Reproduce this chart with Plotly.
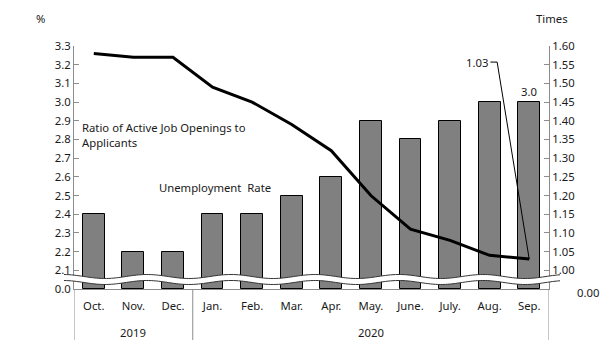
import numpy as np
import plotly.graph_objects as go

months = ["Oct.", "Nov.", "Dec.", "Jan.", "Feb.", "Mar.", "Apr.", "May.", "June.", "July.", "Aug.", "Sep."]
years = ["2019", "2020"]
unemployment = [2.4, 2.2, 2.2, 2.4, 2.4, 2.5, 2.6, 2.9, 2.8, 2.9, 3.0, 3.0]
ratio = [1.58, 1.57, 1.57, 1.49, 1.45, 1.39, 1.32, 1.20, 1.11, 1.08, 1.04, 1.03]
left_ticks = [2.0, 2.1, 2.2, 2.3, 2.4, 2.5, 2.6, 2.7, 2.8, 2.9, 3.0, 3.1, 3.2, 3.3]
left_text = ["0.0"] + [f"{v:.1f}" for v in left_ticks[1:]]
right_ticks = [1.00, 1.05, 1.10, 1.15, 1.20, 1.25, 1.30, 1.35, 1.40, 1.45, 1.50, 1.55, 1.60]
right_text = [f"{v:.2f}" for v in right_ticks]

FONT = "Noto Sans"
TXT = "#1a1a1a"
FS = 11.3
xs = list(range(len(months)))
ymin, ymax = 2.0, 3.3
y2min, y2max = 0.95, 1.60

fig = go.Figure()
fig.add_trace(go.Bar(x=xs, y=[u - ymin for u in unemployment], base=ymin, width=0.55,
                     marker=dict(color="#808080", line=dict(color="black", width=1)),
                     showlegend=False, hoverinfo="skip"))
fig.add_trace(go.Scatter(x=xs, y=ratio, yaxis="y2", mode="lines",
                         line=dict(color="black", width=3), showlegend=False))

# axis break wave (decoration)
W, H = 475.0, 243.0
px0, px1 = -10, 486
t = np.linspace(px0, px1, 200)
def ypix_to_data(p):
    return ymax - p / H * (ymax - ymin)
center = 233.5
amp = 2.0
period = 84.0
def wave(off):
    return [center + off + amp * np.sin(2 * np.pi * (v - 10) / period) for v in t]
top = wave(-3.0)
bot = wave(3.0)
path = "M " + " L ".join(f"{v / W:.5f},{ypix_to_data(p):.5f}" for v, p in zip(t, top))
path += " L " + " L ".join(f"{v / W:.5f},{ypix_to_data(p):.5f}" for v, p in zip(t[::-1], bot[::-1])) + " Z"
shapes = [dict(type="path", path=path, xref="paper", yref="y", fillcolor="white",
               line=dict(width=0), layer="above")]
for edge in (top, bot):
    p = "M " + " L ".join(f"{v / W:.5f},{ypix_to_data(q):.5f}" for v, q in zip(t, edge))
    shapes.append(dict(type="path", path=p, xref="paper", yref="y",
                       line=dict(color="#333333", width=1), layer="above"))

# category dividers
for xv in (-0.5, 2.5, 11.5):
    shapes.append(dict(type="line", xref="x", yref="paper", x0=xv, x1=xv, y0=0, y1=-51 / H,
                       line=dict(color="#8c8c8c", width=1)))

# leader line for 1.03 label
shapes.append(dict(type="path", xref="x", yref="y2",
                   path=f"M {xs[-1]},{ratio[-1]} L 10.19,1.557 L 10.02,1.557",
                   line=dict(color="black", width=1)))

f = dict(size=FS, color=TXT, family=FONT)
annotations = [
    dict(x=10.0, y=1.557, xref="x", yref="y2", text=f"{ratio[-1]:.2f}", showarrow=False,
         xanchor="right", yanchor="middle", font=f),
    dict(x=xs[-1], y=unemployment[-1], xref="x", yref="y", text=f"{unemployment[-1]:.1f}",
         showarrow=False, yanchor="bottom", yshift=1, font=f),
    dict(x=1, y=-43 / H, xref="x", yref="paper", text=years[0], showarrow=False,
         yanchor="middle", font=f),
    dict(x=7, y=-43 / H, xref="x", yref="paper", text=years[1], showarrow=False,
         yanchor="middle", font=f),
    dict(x=-0.057, y=271 / H, xref="paper", yref="paper", text="%", showarrow=False,
         xanchor="right", yanchor="middle", font=f),
    dict(x=1.006, y=271 / H, xref="paper", yref="paper", text="Times", showarrow=False,
         xanchor="center", yanchor="middle", font=f),
    dict(x=0.013, y=2.825, xref="paper", yref="y", text="Ratio of Active Job Openings to<br>Applicants",
         showarrow=False, xanchor="left", align="left", font=f),
    dict(x=0.174, y=2.545, xref="paper", yref="y", text="Unemployment  Rate",
         showarrow=False, xanchor="left", font=f),
    dict(x=1.0, y=0, xref="paper", yref="paper", text="0.00", showarrow=False,
         xanchor="left", yanchor="middle", xshift=26, yshift=-3, font=f),
]

# the page body adds an 8px offset; size the figure so the plot lands where the reference has it
fig.update_layout(
    width=607, height=347,
    margin=dict(l=66, r=66, t=38, b=66, autoexpand=False),
    paper_bgcolor="white", plot_bgcolor="white",
    font=dict(family=FONT, size=FS, color=TXT),
    bargap=0,
    xaxis=dict(range=[-0.5, 11.5], tickmode="array", tickvals=xs, ticktext=months, automargin=False,
               showline=True, linecolor="#8c8c8c", ticks="", showgrid=False, zeroline=False,
               ticklabelstandoff=6, tickfont=f),
    yaxis=dict(range=[ymin, ymax], tickmode="array", tickvals=left_ticks, ticktext=left_text, automargin=False,
               showline=True, linecolor="#8c8c8c", ticks="inside", ticklen=5, tickcolor="#8c8c8c",
               showgrid=False, zeroline=False, tickfont=f),
    yaxis2=dict(range=[y2min, y2max], overlaying="y", side="right", tickmode="array", automargin=False,
                tickvals=right_ticks, ticktext=right_text,
                showline=True, linecolor="#8c8c8c", ticks="inside", ticklen=5, tickcolor="#8c8c8c",
                showgrid=False, zeroline=False, tickfont=f),
    shapes=shapes, annotations=annotations,
)

fig.write_html("out.html")
